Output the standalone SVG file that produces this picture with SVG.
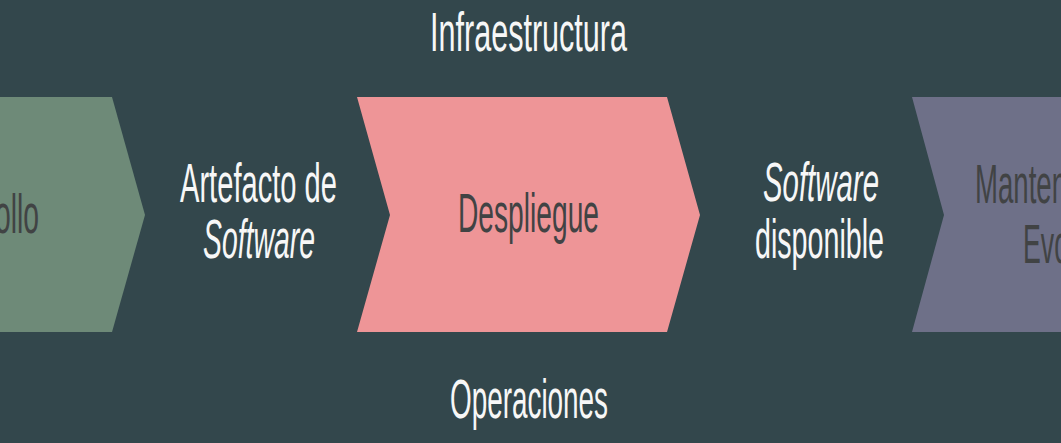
<svg xmlns="http://www.w3.org/2000/svg" width="1061" height="443" viewBox="0 0 1061 443">
  <style>
    .t { font-family: "Liberation Sans", Arial, sans-serif; font-size: 56px; }
    .w { fill: #f7f7f7; }
    .d { fill: #414344; }
    .i { font-style: italic; }
  </style>
  <rect x="0" y="0" width="1061" height="443" fill="#33474c"/>

  <g id="node-desarrollo">
    <polygon points="-10,97 112,97 145,215 112,332 -10,332" fill="#6e8a78"/>
    <text class="t d" x="39" y="233" text-anchor="end" textLength="44" lengthAdjust="spacingAndGlyphs">ollo</text>
  </g>

  <g id="node-despliegue">
    <polygon points="357,97 667,97 700,215 667,332 357,332 390,215" fill="#ee9597"/>
    <text class="t d" x="458" y="232" textLength="141" lengthAdjust="spacingAndGlyphs">Despliegue</text>
  </g>

  <g id="node-mantenimiento">
    <polygon points="912,97 1070,97 1070,332 912,332 944,215" fill="#6e7088"/>
    <text class="t d" x="975" y="203" textLength="92" lengthAdjust="spacingAndGlyphs">Manten</text>
    <text class="t d" x="1023" y="263" textLength="46" lengthAdjust="spacingAndGlyphs">Evo</text>
  </g>

  <g id="node-infraestructura">
    <text class="t w" x="430" y="51" textLength="197" lengthAdjust="spacingAndGlyphs">Infraestructura</text>
  </g>

  <g id="node-operaciones">
    <text class="t w" x="450" y="418" textLength="158" lengthAdjust="spacingAndGlyphs">Operaciones</text>
  </g>

  <g id="connectors">
    <g id="label-artefacto">
      <text class="t w" x="180" y="202" textLength="157" lengthAdjust="spacingAndGlyphs">Artefacto de</text>
      <text class="t w i" x="203" y="258" textLength="112" lengthAdjust="spacingAndGlyphs">Software</text>
    </g>
    <g id="label-disponible">
      <text class="t w i" x="763" y="201" textLength="116" lengthAdjust="spacingAndGlyphs">Software</text>
      <text class="t w" x="755" y="258" textLength="129" lengthAdjust="spacingAndGlyphs">disponible</text>
    </g>
  </g>
</svg>
